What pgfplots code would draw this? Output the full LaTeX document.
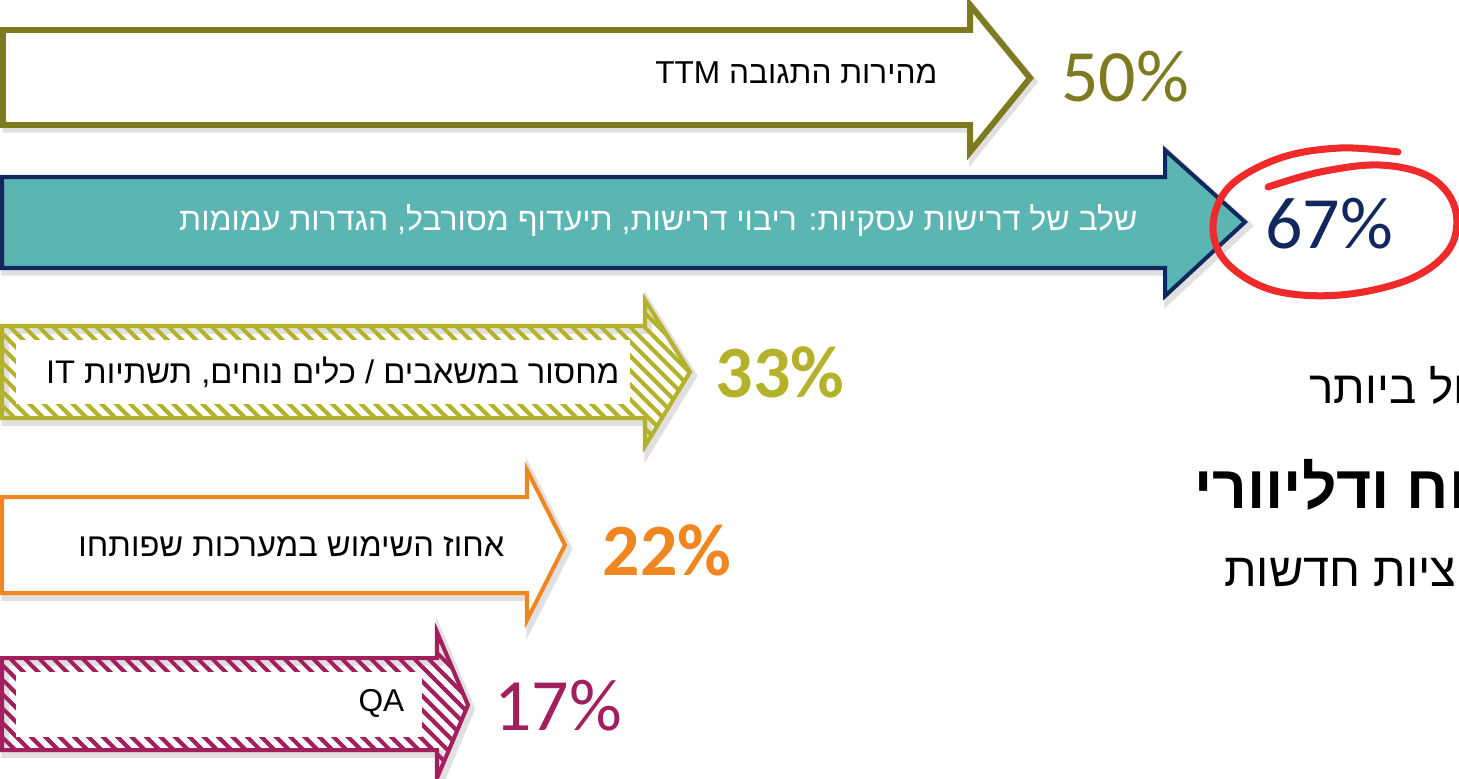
\documentclass[border=0pt]{standalone}
\usepackage{fontspec}
\usepackage{pgfplots}
\pgfplotsset{compat=1.18}
\usetikzlibrary{patterns.meta}
\TeXXeTstate=1
\setmainfont{Carlito}
\newfontfamily\heb[Script=Hebrew]{Liberation Sans}
\newfontfamily\num{Carlito}
\definecolor{olive}{HTML}{7E7A1F}
\definecolor{tealfill}{HTML}{5AB5B3}
\definecolor{navy}{HTML}{10285E}
\definecolor{lime}{HTML}{B4B22A}
\definecolor{orng}{HTML}{F0861F}
\definecolor{plum}{HTML}{A21E5D}
\definecolor{ring}{HTML}{EE2A2A}

\begin{document}
\begin{tikzpicture}[lbl/.style={inner sep=0pt}]
\begin{axis}[
    width=14.59cm, height=7.78cm, scale only axis,
    xmin=0, xmax=1459, ymin=0, ymax=778, y dir=reverse,
    hide axis, clip=true,
    every axis plot/.append style={line join=miter},
    hatch/.style={pattern={Lines[angle=-45,distance=2.9pt,line width=1.1pt]}, pattern color=#1},
    shade/.style={preaction={draw=black!12, line width=2.2pt, transform canvas={xshift=0.9pt, yshift=-1.1pt}}},
]
% arrows, in pixel units of the slide
% 50% -- response speed
\addplot[shade, draw=olive, line width=1.7pt, fill=white] coordinates {(3,30) (970,30) (970,5) (1030,78) (970,152) (970,125) (3,125)} -- cycle;
% 67% -- business requirements
\addplot[shade, draw=navy, line width=1.15pt, fill=tealfill] coordinates {(2,177) (1165,177) (1165,150) (1245,222) (1165,296) (1165,268) (2,268)} -- cycle;
% 33% -- resources / IT
\addplot[shade, draw=lime, line width=1.15pt, hatch=lime] coordinates {(2,326) (645,326) (645,300) (690,372) (645,446) (645,418) (2,418)} -- cycle;
\addplot[draw=none, fill=white] coordinates {(16,340) (630,340) (630,404) (16,404)} -- cycle;
% 22% -- usage
\addplot[shade, draw=orng, line width=1.15pt, fill=white] coordinates {(2,497) (527,497) (527,470) (565,545) (527,620) (527,593) (2,593)} -- cycle;
% 17% -- QA
\addplot[shade, draw=plum, line width=1.15pt, hatch=plum] coordinates {(2,658) (437,658) (437,632) (468,705) (437,778) (437,750) (2,750)} -- cycle;
\addplot[draw=none, fill=white] coordinates {(16,672) (422,672) (422,737) (16,737)} -- cycle;

% labels inside arrows
\node[lbl, anchor=east, font=\heb\fontsize{9}{11}\selectfont] at (axis cs:938,73) {\beginR מהירות התגובה \beginL TTM\endL\endR};
\node[lbl, anchor=east, text=white, font=\heb\fontsize{9.1}{11}\selectfont] at (axis cs:1138,220) {\beginR שלב של דרישות עסקיות: ריבוי דרישות, תיעדוף מסורבל, הגדרות עמומות\endR};
\node[lbl, anchor=east, font=\heb\fontsize{9.3}{11}\selectfont] at (axis cs:620,372) {\beginR מחסור במשאבים / כלים נוחים, תשתיות \beginL IT\endL\endR};
\node[lbl, anchor=east, font=\heb\fontsize{9.3}{11}\selectfont] at (axis cs:505,547) {\beginR אחוז השימוש במערכות שפותחו\endR};
\node[lbl, anchor=east, font=\heb\fontsize{9}{11}\selectfont] at (axis cs:405,703) {QA};

% values
\node[text=olive, font=\num\fontsize{21}{21}\selectfont] at (axis cs:1125,77) {50\%};
\node[text=navy, font=\num\fontsize{21}{21}\selectfont] at (axis cs:1329,224) {67\%};
\node[text=lime, font=\num\bfseries\fontsize{21}{21}\selectfont] at (axis cs:780,372) {33\%};
\node[text=orng, font=\num\bfseries\fontsize{21}{21}\selectfont] at (axis cs:667,550) {22\%};
\node[text=plum, font=\num\fontsize{21}{21}\selectfont] at (axis cs:558,706) {17\%};

% hand drawn ring round 67%
\addplot[smooth, draw=ring, line width=2pt, line cap=round, tension=0.6] coordinates {
 (1268,187) (1320,172) (1380,165) (1430,177) (1455,208) (1450,248) (1410,279)
 (1340,295) (1272,290) (1226,262) (1213,225) (1230,186) (1280,158) (1340,148) (1398,152)};

% side text, cut at the right edge
\node[lbl, anchor=east, font=\heb\fontsize{13}{15}\selectfont] at (axis cs:1466,385) {\beginR ול ביותר\endR};
\node[lbl, anchor=east, font=\heb\bfseries\fontsize{17.2}{20}\selectfont] at (axis cs:1468,485) {\beginR וח ודליוורי\endR};
\node[lbl, anchor=east, font=\heb\fontsize{13.4}{16}\selectfont] at (axis cs:1457,572) {\beginR ציות חדשות\endR};
\end{axis}
\pgfresetboundingbox
\useasboundingbox (current axis.south west) rectangle (current axis.north east);
\end{tikzpicture}
\end{document}
